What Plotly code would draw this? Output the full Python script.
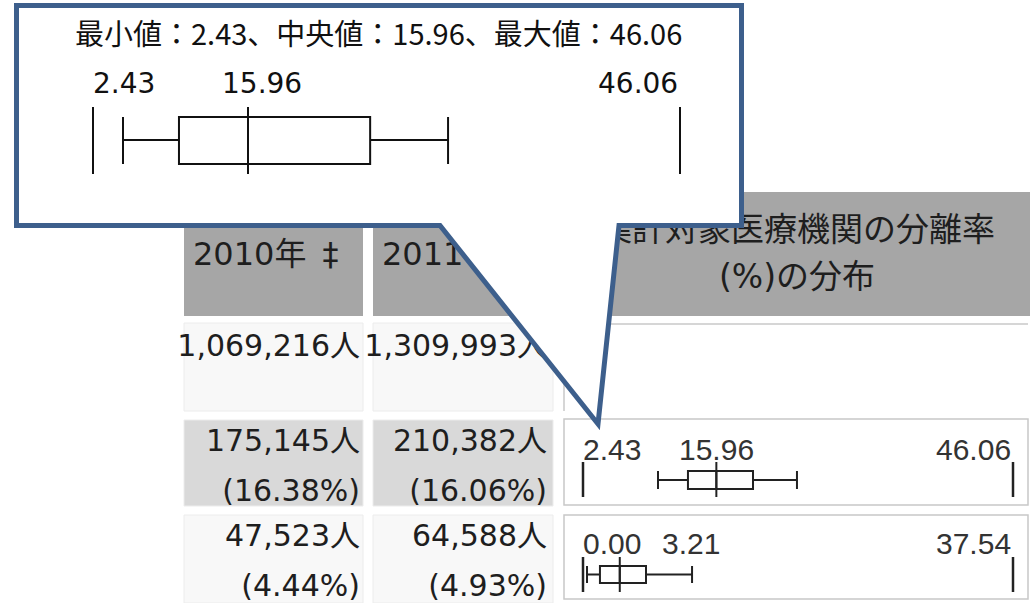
import plotly.graph_objects as go

W, H = 1033, 603

# ---------------- data ----------------
year_headers = ["2010年\u2002‡", "2011年\u2002‡"]
dist_header_lines = ["集計対象医療機関の分離率", "(%)の分布"]
total_counts = ["1,069,216人", "1,309,993人"]
grp_a_counts = ["175,145人", "210,382人"]
grp_a_pcts = ["(16.38%)", "(16.06%)"]
grp_b_counts = ["47,523人", "64,588人"]
grp_b_pcts = ["(4.44%)", "(4.93%)"]

# distribution of separation rate (%) per row (row A, row B)
dist_min = [2.43, 0.00]
dist_lowerfence = [10.04, 0.35]
dist_q1 = [13.08, 1.48]
dist_median = [15.96, 3.21]
dist_q3 = [19.68, 5.50]
dist_upperfence = [24.14, 9.52]
dist_max = [46.06, 37.54]

# callout: enlarged schematic of the first distribution
callout_title = "最小値：2.43、中央値：15.96、最大値：46.06"
callout_min = 2.43
callout_median = 15.96
callout_max = 46.06
callout_fences = [4.66, 28.82]
callout_box = [8.82, 23.03]
callout_median_mark = 13.95

# ---------------- styling / layout constants ----------------
FONT = "DejaVu Sans, Noto Sans CJK JP, sans-serif"
CJK = "Noto Sans CJK JP, DejaVu Sans, sans-serif"
NUM = "Liberation Sans, Arial, sans-serif"
TXT = "#1e1e1e"
HEAD_GRAY = "#a6a6a6"
ROW_GRAY = "#d9d9d9"
ROW_LIGHT = "#f8f8f8"
BORDER = "#c8c8c8"
CALLOUT = "#3d5f8c"
INK = "#222222"

col_x = [(184, 363), (373, 553), (563, 1030)]
header_y = (192, 316)
row_y = [(323, 411), (420, 506), (515, 603)]
row_fill = [ROW_LIGHT, ROW_GRAY, ROW_LIGHT]
dist_cells = [(419, 505), (515, 599)]
box_center = [480, 574.5]
box_height = [18, 17]
tick_span = [(462, 497), (557, 592)]
label_y = [449, 543]
plot_px = (583, 1013)  # min / max positions inside the distribution cell

fig = go.Figure()
shapes = []
annotations = []

# table cells
for (x0, x1) in col_x:
    shapes.append(dict(type="rect", xref="x", yref="y", x0=x0, x1=x1,
                       y0=header_y[0], y1=header_y[1], fillcolor=HEAD_GRAY,
                       line=dict(width=0), layer="below"))
for (x0, x1) in col_x[:2]:
    for (y0, y1), fc in zip(row_y, row_fill):
        shapes.append(dict(type="rect", xref="x", yref="y", x0=x0, x1=x1,
                           y0=y0, y1=y1, fillcolor=fc,
                           line=dict(color="#ececec", width=1), layer="below"))
# distribution column cells
shapes.append(dict(type="line", xref="x", yref="y", x0=564, x1=1028, y0=324, y1=324,
                   line=dict(color=BORDER, width=1.5), layer="below"))
shapes.append(dict(type="line", xref="x", yref="y", x0=564, x1=564, y0=324, y1=411,
                   line=dict(color=BORDER, width=1.5), layer="below"))
for (y0, y1) in dist_cells:
    shapes.append(dict(type="rect", xref="x", yref="y", x0=564, x1=1028, y0=y0, y1=y1,
                       fillcolor="white", line=dict(color=BORDER, width=1.5), layer="below"))

# header text
fig.add_trace(go.Scatter(x=[193, 382], y=[257, 257], mode="text", text=year_headers,
                         textposition="middle right",
                         textfont=dict(family=FONT, size=32, color=TXT),
                         hoverinfo="skip", xaxis="x", yaxis="y"))
fig.add_trace(go.Scatter(x=[797, 797], y=[233, 280], mode="text", text=dist_header_lines,
                         textposition="middle center",
                         textfont=dict(family=FONT, size=33, color=TXT),
                         hoverinfo="skip", xaxis="x", yaxis="y"))

# body text (right aligned)
right_x = [360, 547]
body_lines = [
    (total_counts, 348),
    (grp_a_counts, 443),
    (grp_a_pcts, 493),
    (grp_b_counts, 538),
    (grp_b_pcts, 588),
]
for texts, yy in body_lines:
    fig.add_trace(go.Scatter(x=right_x, y=[yy, yy], mode="text", text=texts,
                             textposition="middle left",
                             textfont=dict(family=FONT, size=30, color=TXT),
                             hoverinfo="skip", xaxis="x", yaxis="y"))

# distribution box plots (one axis per row)
layout_axes = {}
for i in range(2):
    ax_n = i + 2
    xa = f"x{ax_n}"
    s = (plot_px[1] - plot_px[0]) / (dist_max[i] - dist_min[i])
    pad = 12
    layout_axes[f"xaxis{ax_n}"] = dict(
        domain=[(plot_px[0] - pad) / W, (plot_px[1] + pad) / W],
        range=[dist_min[i] - pad / s, dist_max[i] + pad / s],
        anchor="y", visible=False, fixedrange=True)
    fig.add_trace(go.Box(y=[box_center[i]], q1=[dist_q1[i]], median=[dist_median[i]],
                         q3=[dist_q3[i]], lowerfence=[dist_lowerfence[i]],
                         upperfence=[dist_upperfence[i]], orientation="h",
                         width=box_height[i], whiskerwidth=1, fillcolor="white",
                         line=dict(color=INK, width=2), boxpoints=False,
                         hoverinfo="skip", xaxis=xa, yaxis="y"))
    # median marker extending beyond the box
    fig.add_trace(go.Scatter(x=[dist_median[i], dist_median[i]], y=list(tick_span[i]),
                             mode="lines", line=dict(color=INK, width=2),
                             hoverinfo="skip", xaxis=xa, yaxis="y"))
    # min / max markers
    for v in (dist_min[i], dist_max[i]):
        fig.add_trace(go.Scatter(x=[v, v], y=list(tick_span[i]), mode="lines",
                                 line=dict(color=INK, width=2.5),
                                 hoverinfo="skip", xaxis=xa, yaxis="y", cliponaxis=False))
    lab_font = dict(family=NUM, size=30, color="#333333")
    annotations.append(dict(xref=xa, yref="y", x=dist_min[i], y=label_y[i],
                            text=f"{dist_min[i]:.2f}", showarrow=False,
                            xanchor="left", xshift=-2, font=lab_font))
    annotations.append(dict(xref=xa, yref="y", x=dist_max[i], y=label_y[i],
                            text=f"{dist_max[i]:.2f}", showarrow=False,
                            xanchor="right", xshift=0, font=lab_font))
    if i == 0:
        annotations.append(dict(xref=xa, yref="y", x=dist_median[i], y=label_y[i],
                                text=f"{dist_median[i]:.2f}", showarrow=False,
                                xanchor="center", font=lab_font))
    else:
        annotations.append(dict(xref=xa, yref="y", x=dist_min[i], y=label_y[i],
                                text=f"{dist_median[i]:.2f}", showarrow=False,
                                xanchor="left", xshift=77, font=lab_font))

# callout balloon
shapes.append(dict(type="path", xref="x", yref="y",
                   path="M 16.5 5.5 L 741.5 5.5 L 741.5 225.5 L 619 225.5 "
                        "L 598 424 L 440 225.5 L 16.5 225.5 Z",
                   fillcolor="white", line=dict(color=CALLOUT, width=5), layer="above"))

# callout box plot axis
c_px = (93, 680)
cs = (c_px[1] - c_px[0]) / (callout_max - callout_min)
cpad = 12
layout_axes["xaxis5"] = dict(domain=[(c_px[0] - cpad) / W, (c_px[1] + cpad) / W],
                             range=[callout_min - cpad / cs, callout_max + cpad / cs],
                             anchor="y", visible=False, fixedrange=True)
fig.add_trace(go.Scatter(x=[callout_min], y=[-50], mode="markers",
                         marker=dict(opacity=0), hoverinfo="skip",
                         xaxis="x5", yaxis="y"))
cline = dict(color="#111111", width=2)
cy_tick = (107, 174)
cy_box = (117, 164)
cy_mid = 140
for v in (callout_min, callout_max, callout_median_mark):
    shapes.append(dict(type="line", xref="x5", yref="y", x0=v, x1=v,
                       y0=cy_tick[0], y1=cy_tick[1], line=cline, layer="above"))
for v in callout_fences:
    shapes.append(dict(type="line", xref="x5", yref="y", x0=v, x1=v,
                       y0=cy_box[0], y1=cy_box[1], line=cline, layer="above"))
shapes.append(dict(type="line", xref="x5", yref="y", x0=callout_fences[0], x1=callout_box[0],
                   y0=cy_mid, y1=cy_mid, line=cline, layer="above"))
shapes.append(dict(type="line", xref="x5", yref="y", x0=callout_box[1], x1=callout_fences[1],
                   y0=cy_mid, y1=cy_mid, line=cline, layer="above"))
shapes.append(dict(type="rect", xref="x5", yref="y", x0=callout_box[0], x1=callout_box[1],
                   y0=cy_box[0], y1=cy_box[1], line=cline, layer="above"))
shapes.append(dict(type="line", xref="x5", yref="y", x0=callout_median_mark,
                   x1=callout_median_mark, y0=cy_tick[0], y1=cy_tick[1],
                   line=cline, layer="above"))

cfont = dict(family=FONT, size=28, color="#111111")
annotations.append(dict(xref="x", yref="y", x=378, y=32, text=callout_title,
                        showarrow=False, xanchor="center",
                        font=dict(family=CJK, size=29, color="#111111")))
annotations.append(dict(xref="x5", yref="y", x=callout_min, y=83,
                        text=f"{callout_min:.2f}", showarrow=False,
                        xanchor="left", xshift=-2, font=cfont))
annotations.append(dict(xref="x5", yref="y", x=callout_median_mark, y=83,
                        text=f"{callout_median:.2f}", showarrow=False,
                        xanchor="center", xshift=14, font=cfont))
annotations.append(dict(xref="x5", yref="y", x=callout_max, y=83,
                        text=f"{callout_max:.2f}", showarrow=False,
                        xanchor="right", xshift=0, font=cfont))

fig.update_layout(
    width=W, height=H,
    margin=dict(l=0, r=0, t=0, b=0),
    paper_bgcolor="white",
    plot_bgcolor="rgba(0,0,0,0)",
    showlegend=False,
    xaxis=dict(domain=[0, 1], range=[0, W], visible=False, fixedrange=True),
    yaxis=dict(domain=[0, 1], range=[H, 0], visible=False, fixedrange=True),
    shapes=shapes,
    annotations=annotations,
    **layout_axes,
)

fig.write_html("out.html",
               config={"displayModeBar": False},
               post_script="document.body.style.margin='0';"
                           "document.body.style.overflow='hidden';")
